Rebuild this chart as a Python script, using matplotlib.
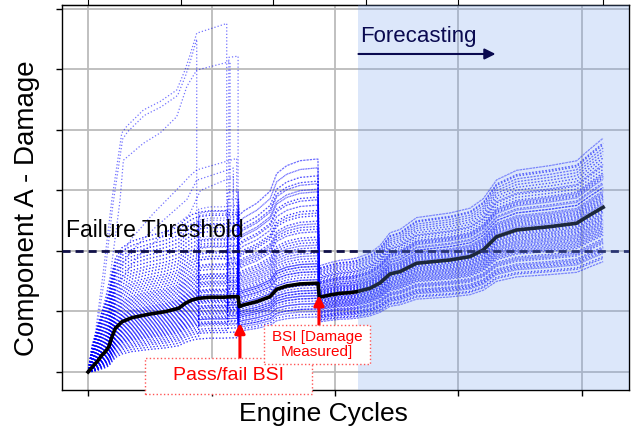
import numpy as np
import matplotlib
matplotlib.use('Agg')
import matplotlib.pyplot as plt
from matplotlib.patches import Rectangle

plt.rcParams['font.family'] = ['Liberation Sans', 'DejaVu Sans']

# median damage path (black line), split at the two borescope inspections
seg1_x = [0, 0.032, 0.073, 0.113, 0.14, 0.168, 0.194, 0.221, 0.275, 0.356,
          0.491, 0.624, 0.734, 0.788, 0.842, 0.896, 0.988, 1.096, 1.13,
          1.19, 1.215]
seg1_y = [0, 0.078, 0.17, 0.28, 0.335, 0.418, 0.583, 0.722, 0.831, 0.898,
          0.954, 0.997, 1.053, 1.136, 1.19, 1.218, 1.235, 1.235, 1.24,
          1.245, 1.245]
seg2_x = [1.225, 1.258, 1.366, 1.474, 1.528, 1.609, 1.717, 1.846, 1.862]
seg2_y = [1.079, 1.107, 1.162, 1.245, 1.367, 1.421, 1.455, 1.466, 1.466]
seg3_x = [1.873, 1.96, 2.04, 2.121, 2.176, 2.283, 2.364, 2.445, 2.526,
          2.661, 2.931, 3.093, 3.201, 3.309, 3.471, 3.741, 3.957, 4.065,
          4.172]
seg3_y = [1.235, 1.273, 1.3, 1.311, 1.327, 1.383, 1.471, 1.62, 1.658,
          1.797, 1.851, 1.906, 2.017, 2.236, 2.347, 2.402, 2.458, 2.595,
          2.722]

# spread of each sample relative to the median, before / between / after BSI
f1 = [0.40, 0.44, 0.48, 0.51, 0.54, 0.57, 0.60, 0.62, 0.64, 0.66, 0.68, 0.70,
      0.72, 0.74, 0.76, 0.78, 0.80, 0.82, 0.84, 0.86, 0.88, 0.90, 0.92, 0.94,
      0.96, 0.98, 1.00, 1.02, 1.04, 1.06, 1.08, 1.10, 1.12, 1.14, 1.17, 1.20,
      1.23, 1.26, 1.29, 1.32, 1.35, 1.38, 1.42, 1.46, 1.50, 1.54, 1.58, 1.62,
      1.67, 1.72, 1.77, 1.82, 1.88, 1.94, 2.00, 2.06, 2.12, 2.18, 2.25, 2.32]
f2 = [1.34, 0.71, 1.97, 0.92, 1.58, 0.65, 2.12, 1.07, 0.83, 1.76, 1.22, 0.98,
      2.30, 0.77, 1.43, 1.13, 1.88, 0.62, 1.61, 1.01, 0.89, 2.03, 1.28, 0.74,
      1.49, 1.19, 2.21, 0.86, 1.37, 0.95, 1.70, 1.04, 0.68, 1.82, 1.25, 2.40,
      0.80, 1.52, 1.10, 1.94, 0.92, 1.31, 0.71, 1.64, 1.16, 2.15, 0.86, 1.40,
      0.77, 1.79, 1.04, 1.22, 0.98, 2.06, 0.83, 1.46, 1.13, 1.67, 0.89, 1.19]
f3 = [1.05, 0.78, 1.21, 0.92, 1.36, 0.70, 1.12, 0.98, 0.84, 1.28, 1.01, 0.74,
      1.17, 0.88, 1.42, 0.95, 1.08, 0.67, 1.25, 0.81, 1.14, 0.90, 1.32, 0.76,
      1.03, 0.96, 1.19, 0.72, 1.10, 0.86, 1.39, 0.99, 0.80, 1.23, 0.93, 1.06,
      0.69, 1.30, 0.87, 1.15, 1.00, 0.75, 1.26, 0.91, 1.34, 0.83, 1.09, 0.97,
      1.20, 0.73, 1.12, 0.89, 1.04, 0.79, 1.38, 0.94, 1.18, 0.85, 1.07, 1.02]
# index in seg1 where a sample gets resampled
jump_idx = [20, 15, 20, 18]

# samples that shot up early and were dropped
outliers = [
    ([0, 0.05, 0.12, 0.192, 0.273, 0.313, 0.448, 0.583, 0.718, 0.785, 0.826,
      0.88, 1.123, 1.123],
     [0, 0.5, 1.6, 2.84, 3.95, 4.06, 4.33, 4.47, 4.66, 4.99, 5.24, 5.60,
      5.76, 1.0]),
    ([0, 0.05, 0.13, 0.2, 0.28, 0.32, 0.455, 0.59, 0.725, 0.79, 0.83, 0.88,
      0.88],
     [0, 0.45, 1.5, 2.75, 3.85, 3.97, 4.24, 4.38, 4.57, 4.9, 5.15, 5.5, 1.2]),
    ([0, 0.08, 0.18, 0.259, 0.286, 0.448, 0.583, 0.718, 0.8, 0.88, 1.15,
      1.15],
     [0, 0.5, 1.6, 2.84, 3.5, 3.78, 3.95, 4.22, 4.72, 4.99, 5.13, 0.9]),
    ([1.14, 1.14, 1.215, 1.215], [1.2, 5.2, 5.22, 1.0]),
    ([0, 0.1, 0.2, 0.35, 0.529, 0.77, 0.824, 0.88, 1.204, 1.204],
     [0, 0.9, 1.7, 2.2, 2.62, 3.12, 3.24, 3.34, 3.53, 1.0]),
    ([0, 0.1, 0.2, 0.35, 0.55, 0.8, 0.88, 1.177, 1.177],
     [0, 0.8, 1.55, 2.0, 2.4, 2.85, 3.17, 3.37, 1.1]),
    ([0, 0.12, 0.22, 0.4, 0.6, 0.82, 0.91, 1.177, 1.177],
     [0, 0.7, 1.4, 1.9, 2.25, 2.6, 3.0, 3.23, 0.9]),
]

threshold = 2.0
forecast_start = 2.19
top_ticks = [0, 0.75, 1.5, 2.25, 3.0, 4.17]


def member(a, b, c, k):
    '''one damage sample built from the median and its spread factors'''
    s1x = np.array(seg1_x)
    s1y = np.array(seg1_y)
    early = a * np.power(s1y, 1 / np.sqrt(a))
    x = list(s1x[:k + 1]) + list(s1x[k:]) + seg2_x + seg3_x
    y = (list(early[:k + 1]) + list(b * s1y[k:]) +
         list(b * np.array(seg2_y)) + list(c * np.array(seg3_y)))
    return x, y


def plot(fname):
    fig = plt.figure(figsize=(6.31, 4.33), dpi=100)
    ax = fig.add_axes([0.0983, 0.0993, 0.8985, 0.8892])
    ax.set_xlim(-0.211, 4.381)
    ax.set_ylim(-0.298, 6.066)

    sty = dict(ls=':', lw=0.9, color='#0000ff', alpha=0.55, zorder=2)
    # two passes over the factors, the second one paired the other way round
    pairs = list(zip(f1, f2, f3)) + list(zip(f1, f2[::-1], f3[::-1]))
    for i, (a, b, c) in enumerate(pairs):
        x, y = member(a, b, c, jump_idx[i % len(jump_idx)])
        ax.plot(x, y, **sty)
    for x, y in outliers:
        ax.plot(x, y, **sty)

    ax.plot(seg1_x + seg2_x + seg3_x, seg1_y + seg2_y + seg3_y,
            color='black', lw=2.6, zorder=3)
    ax.axhline(threshold, color='#101048', lw=2.0, ls=(0, (2.9, 1.8)),
               zorder=4)
    ax.axvspan(forecast_start, 4.381, color='#77a3ef', alpha=0.25, lw=0,
               zorder=5)

    ax.text(-0.178, 2.23, 'Failure Threshold', fontsize=16.5, color='black',
            zorder=6)
    ax.text(2.2, 5.45, 'Forecasting', fontsize=16, color='#0a0a50',
            zorder=6)
    ax.annotate('', xy=(3.3, 5.256), xytext=(2.19, 5.256), zorder=6,
                arrowprops=dict(arrowstyle='-|>', color='#0a0a50', lw=1.5,
                                mutation_scale=16, shrinkA=0, shrinkB=0))

    # inspection call-outs
    for x0, y0, y1 in [(1.23, 0.231, 0.81), (1.87, 0.777, 1.27)]:
        ax.annotate('', xy=(x0, y1), xytext=(x0, y0), zorder=7,
                    arrowprops=dict(arrowstyle='-|>', color='red', lw=2.2,
                                    mutation_scale=15, shrinkA=0, shrinkB=0))
    ax.add_patch(Rectangle((0.4615, -0.364), 1.352, 0.595, facecolor='white',
                           edgecolor='#ff5555', ls=':', lw=1.0, zorder=8,
                           clip_on=False))
    ax.text(1.137, -0.066, 'Pass/fail BSI', fontsize=14, color='red',
            ha='center', va='center', zorder=9, clip_on=False)
    ax.add_patch(Rectangle((1.425, 0.132), 0.858, 0.645, facecolor='white',
                           edgecolor='#ff5555', ls=':', lw=1.0, zorder=8))
    ax.text(1.854, 0.455, 'BSI [Damage\nMeasured]', fontsize=11,
            color='red', ha='center', va='center', linespacing=1.05,
            zorder=9)

    ax.set_xticks([0, 1, 2, 3, 4])
    ax.set_yticks(range(7))
    ax.tick_params(labelbottom=False, labelleft=False, direction='out',
                   length=4, width=1)
    ax.grid(True, color='#bbbbbb', lw=1.3)
    ax.set_axisbelow(True)
    for sp in ax.spines.values():
        sp.set_linewidth(1.0)
    sec = ax.secondary_xaxis('top')
    sec.set_xticks(top_ticks)
    sec.tick_params(axis='x', labeltop=False, direction='out', length=4)

    fig.text(323.5 / 631, 1 - 414 / 433, 'Engine Cycles', fontsize=19,
             ha='center', va='center')
    fig.text(27 / 631, 1 - 208 / 433, 'Component A - Damage', fontsize=20,
             rotation=90, ha='center', va='center')
    plt.savefig(fname, dpi=100)


def main():
    plot('out.png')


if __name__ == "__main__":
    main()
